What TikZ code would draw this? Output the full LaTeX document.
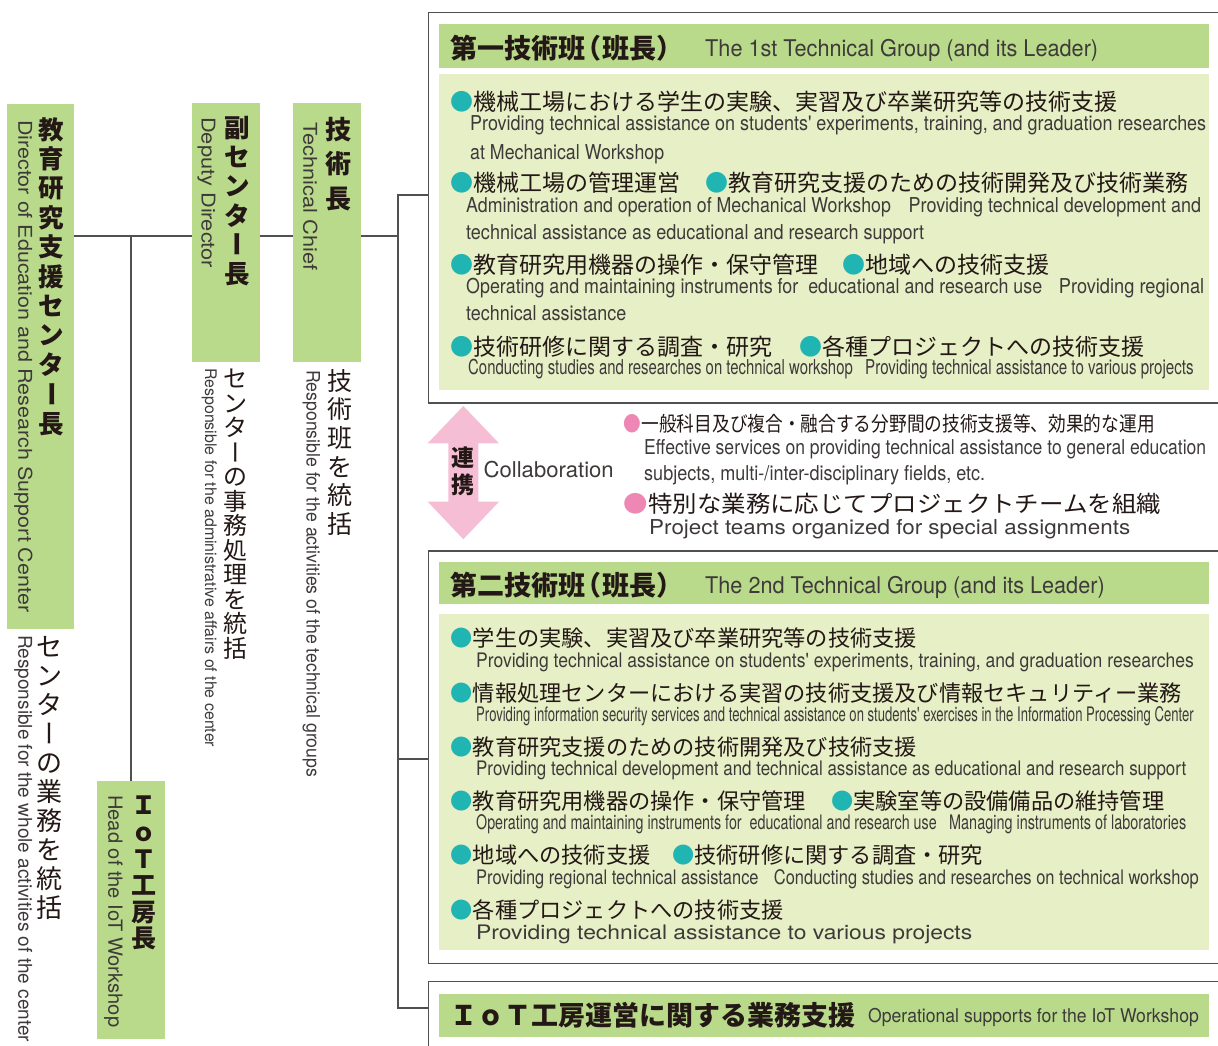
\documentclass[tikz,border=0pt]{standalone}
\usepackage{fontspec}
\usepackage{graphicx}
\newfontfamily\jp{Noto Sans CJK JP}
\newfontfamily\ensf{TeX Gyre Heros}
\definecolor{headgreen}{RGB}{185,217,139}
\definecolor{bodygreen}{RGB}{230,239,198}
\definecolor{bulletteal}{RGB}{32,180,178}
\definecolor{bulletpink}{RGB}{238,135,180}
\definecolor{arrowpink}{RGB}{246,190,212}
\definecolor{ink}{RGB}{35,24,21}
\definecolor{engray}{RGB}{62,58,57}
\definecolor{rule}{RGB}{80,80,80}
\newcommand{\fitw}[2]{\resizebox{#1pt}{\height}{#2}}
\newcommand{\vbar}{\makebox[1em]{\rotatebox[origin=c]{-90}{\raisebox{0pt}[0.88em][0.12em]{ー}}}}
\newcommand{\tb}{\textcolor{bulletteal}{●}}
\newcommand{\pb}{\textcolor{bulletpink}{●}}

\begin{document}
\begin{tikzpicture}[x=1pt,y=-1pt,
	greenbox/.style={fill=headgreen,inner sep=0,anchor=north west},
	bodybox/.style={fill=bodygreen,inner sep=0,anchor=north west},
	groupbox/.style={draw=rule,line width=1.5pt,fill=white,inner sep=0,anchor=north west},
	conn/.style={draw=rule,line width=1.4pt},
	vjp/.style={anchor=north,inner sep=0,align=center,text=ink},
	jpline/.style={anchor=west,inner sep=0,text=ink},
	entext/.style={anchor=base west,inner sep=0,text=engray},
	enrot/.style={anchor=base west,inner sep=0,rotate=-90,text=engray}]
	\useasboundingbox (0,0) rectangle (1218,1046);
	\clip (0,0) rectangle (1218,1046);

	\node[groupbox,minimum width=802pt,minimum height=390.3pt] (group1) at (427.6,11.7) {};
	\node[groupbox,minimum width=802pt,minimum height=412.7pt] (group2) at (427.6,550) {};
	\node[groupbox,minimum width=802pt,minimum height=90pt] (group3) at (427.6,980.7) {};
	\node[greenbox,minimum width=770pt,minimum height=43.7pt] (head1) at (438.8,24) {};
	\node[bodybox,minimum width=770pt,minimum height=316pt] (body1) at (438.8,74) {};
	\node[greenbox,minimum width=770pt,minimum height=42.3pt] (head2) at (439,561.7) {};
	\node[bodybox,minimum width=770pt,minimum height=336pt] (body2) at (439,614) {};
	\node[greenbox,minimum width=770pt,minimum height=43pt] (head3) at (439,994) {};

	\node[greenbox,minimum width=67pt,minimum height=525pt] (director) at (7,104) {};
	\node[greenbox,minimum width=68pt,minimum height=258.4pt] (deputy) at (192,103.3) {};
	\node[greenbox,minimum width=68pt,minimum height=258.4pt] (chief) at (293,103.3) {};
	\node[greenbox,minimum width=68pt,minimum height=258pt] (iothead) at (97,781) {};

	\coordinate (tap) at (131,236);
	\coordinate (spine) at (398,236);
	\coordinate (spinetop) at (398,195);
	\coordinate (spinemid) at (398,759);
	\coordinate (spinebot) at (398,1008);
	\draw[conn] (director.east |- tap) -- (deputy.west |- tap);
	\draw[conn] (deputy.east |- tap) -- (chief.west |- tap);
	\draw[conn] (chief.east |- tap) -- (spine);
	\draw[conn] (tap) -- (tap |- iothead.north);
	\draw[conn] (group1.west |- spinetop) -- (spinetop) -- (spinebot) -- (group3.west |- spinebot);
	\draw[conn] (spinemid) -- (group2.west |- spinemid);

	\node[vjp,font=\jp\bfseries\fontsize{25.5}{29.4}\selectfont] (directorjp) at (51.7,117) {教\\育\\研\\究\\支\\援\\セ\\ン\\タ\\\vbar\\長};
	\node[enrot,font=\ensf\fontsize{19}{19}\selectfont] (directoren) at (18.3,120) {\fitw{492}{Director of Education and Research Support Center}};
	\node[vjp,font=\jp\bfseries\fontsize{25.5}{29.2}\selectfont] (deputyjp) at (237.5,116) {副\\セ\\ン\\タ\\\vbar\\長};
	\node[enrot,font=\ensf\fontsize{19}{19}\selectfont] (deputyen) at (201.5,117) {\fitw{151}{Deputy Director}};
	\node[vjp,font=\jp\bfseries\fontsize{26}{34.5}\selectfont] (chiefjp) at (338.5,117) {技\\術\\長};
	\node[enrot,font=\ensf\fontsize{19}{19}\selectfont] (chiefen) at (303.3,122) {\fitw{148}{Technical Chief}};
	\node[vjp,font=\jp\bfseries\fontsize{25}{26.6}\selectfont] (iotjp) at (143.5,796) {Ｉ\\ｏ\\Ｔ\\工\\房\\長};
	\node[enrot,font=\ensf\fontsize{19.5}{19.5}\selectfont] (ioten) at (108.3,795) {\fitw{232}{Head of the IoT Workshop}};

	\node[vjp,font=\jp\fontsize{26}{29}\selectfont] (directordutyjp) at (49.5,636) {セ\\ン\\タ\\\vbar\\の\\業\\務\\を\\統\\括};
	\node[enrot,font=\ensf\fontsize{19}{19}\selectfont] (directordutyen) at (18.3,635) {\fitw{407}{Responsible for the whole activities of the center}};
	\node[vjp,font=\jp\fontsize{24}{24.5}\selectfont] (deputydutyjp) at (235.5,369) {セ\\ン\\タ\\\vbar\\の\\事\\務\\処\\理\\を\\統\\括};
	\node[enrot,font=\ensf\fontsize{16}{16}\selectfont] (deputydutyen) at (205,368) {\fitw{379}{Responsible for the administrative affairs of the center}};
	\node[vjp,font=\jp\fontsize{25}{28.6}\selectfont] (chiefdutyjp) at (339.5,369) {技\\術\\班\\を\\統\\括};
	\node[enrot,font=\ensf\fontsize{18.5}{18.5}\selectfont] (chiefdutyen) at (306.7,370) {\fitw{407}{Responsible for the activities of the technical groups}};

	\node[jpline,font=\jp\bfseries\fontsize{27}{27}\selectfont] (head1jp) at (450.5,48.3) {\fitw{221.5}{第一技術班\kern-0.4em（班長）\kern-0.4em}};
	\node[entext,font=\ensf\fontsize{23}{23}\selectfont] (head1en) at (705,56.7) {\fitw{393}{The 1st Technical Group (and its Leader)}};
	\begin{scope}[every node/.append style={font=\jp\fontsize{23}{23}\selectfont}]
		\node[jpline] (g1a) at (450.5,101.5) {\tb 機械工場における学生の実験、実習及び卒業研究等の技術支援};
		\node[jpline] (g1b) at (450.5,183) {\tb 機械工場の管理運営};
		\node[jpline] (g1c) at (705,183) {\tb 教育研究支援のための技術開発及び技術業務};
		\node[jpline] (g1d) at (450.5,265) {\tb 教育研究用機器の操作・保守管理};
		\node[jpline] (g1e) at (842,265) {\tb 地域への技術支援};
		\node[jpline] (g1f) at (450.5,347) {\tb 技術研修に関する調査・研究};
		\node[jpline] (g1g) at (799,347) {\tb 各種プロジェクトへの技術支援};
	\end{scope}
	\begin{scope}[every node/.append style={font=\ensf\fontsize{20.5}{20.5}\selectfont}]
		\node[entext] (g1aen) at (470,131) {\fitw{736}{Providing technical assistance on students' experiments, training, and graduation researches}};
		\node[entext] (g1aen2) at (470,159.5) {\fitw{194}{at Mechanical Workshop}};
		\node[entext] (g1ben) at (466,212) {\fitw{424.7}{Administration and operation of Mechanical Workshop}};
		\node[entext] (g1cen) at (908.5,212) {\fitw{292.5}{Providing technical development and}};
		\node[entext] (g1cen2) at (466,239) {\fitw{458}{technical assistance as educational and research support}};
		\node[entext] (g1den) at (466,293.5) {\fitw{576}{Operating and maintaining instruments for \ educational and research use}};
		\node[entext] (g1een) at (1058.7,293.5) {\fitw{145.3}{Providing regional}};
		\node[entext] (g1een2) at (466,320) {\fitw{160}{technical assistance}};
		\node[entext] (g1fen) at (468,374) {\fitw{384.6}{Conducting studies and researches on technical workshop}};
		\node[entext] (g1gen) at (865,374) {\fitw{328.5}{Providing technical assistance to various projects}};
	\end{scope}

	\fill[arrowpink] (463.3,406) -- (499,443.3) -- (478.3,443.3) -- (478.3,501.7) -- (499,501.7) -- (463.3,539.3)
		-- (427.7,501.7) -- (448.3,501.7) -- (448.3,443.3) -- (427.7,443.3) -- cycle;
	\node[vjp,font=\jp\bfseries\fontsize{23}{27}\selectfont] (collabjp) at (462.5,446.5) {連\\携};
	\node[entext,font=\ensf\fontsize{21.8}{21.8}\selectfont] (collaben) at (483.5,477.5) {\fitw{130}{Collaboration}};
	\node[jpline,font=\jp\fontsize{20.5}{20.5}\selectfont] (teama) at (623.6,424) {\fitw{531}{\pb 一般科目及び複合・融合する分野間の技術支援等、効果的な運用}};
	\node[entext,font=\ensf\fontsize{20.5}{20.5}\selectfont] (teamaen) at (644,454) {\fitw{562}{Effective services on providing technical assistance to general education}};
	\node[entext,font=\ensf\fontsize{20.5}{20.5}\selectfont] (teamaen2) at (644,480) {\fitw{341}{subjects, multi-/inter-disciplinary fields, etc.}};
	\node[jpline,font=\jp\fontsize{23}{23}\selectfont] (teamb) at (623.6,504) {\fitw{537}{\pb 特別な業務に応じてプロジェクトチームを組織}};
	\node[entext,font=\ensf\fontsize{20.5}{20.5}\selectfont] (teamben) at (649,534) {\fitw{481}{Project teams organized for special assignments}};

	\node[jpline,font=\jp\bfseries\fontsize{27}{27}\selectfont] (head2jp) at (450.5,585.5) {\fitw{221.5}{第二技術班\kern-0.4em（班長）\kern-0.4em}};
	\node[entext,font=\ensf\fontsize{23}{23}\selectfont] (head2en) at (705,593.5) {\fitw{399.5}{The 2nd Technical Group (and its Leader)}};
	\begin{scope}[every node/.append style={font=\jp\fontsize{22.2}{22.2}\selectfont}]
		\node[jpline] (g2a) at (450.5,638) {\tb 学生の実験、実習及び卒業研究等の技術支援};
		\node[jpline] (g2b) at (450.5,693) {\tb 情報処理センターにおける実習の技術支援及び情報セキュリティー業務};
		\node[jpline] (g2c) at (450.5,747) {\tb 教育研究支援のための技術開発及び技術支援};
		\node[jpline] (g2d) at (450.5,801) {\tb 教育研究用機器の操作・保守管理};
		\node[jpline] (g2e) at (831,801) {\tb 実験室等の設備備品の維持管理};
		\node[jpline] (g2f) at (450.5,855) {\tb 地域への技術支援};
		\node[jpline] (g2g) at (672,855) {\tb 技術研修に関する調査・研究};
		\node[jpline] (g2h) at (450.5,910) {\tb 各種プロジェクトへの技術支援};
	\end{scope}
	\begin{scope}[every node/.append style={font=\ensf\fontsize{20}{20}\selectfont}]
		\node[entext] (g2aen) at (476,667) {\fitw{717.5}{Providing technical assistance on students' experiments, training, and graduation researches}};
		\node[entext] (g2ben) at (476,721.5) {\fitw{717.5}{Providing information security services and technical assistance on students' exercises in the Information Processing Center}};
		\node[entext] (g2cen) at (476,775) {\fitw{710}{Providing technical development and technical assistance as educational and research support}};
		\node[entext] (g2den) at (476,829.5) {\fitw{460.5}{Operating and maintaining instruments for \ educational and research use}};
		\node[entext] (g2een) at (949,829.5) {\fitw{237}{Managing instruments of laboratories}};
		\node[entext] (g2fen) at (476,884) {\fitw{282.4}{Providing regional technical assistance}};
		\node[entext] (g2gen) at (773.7,884) {\fitw{424.9}{Conducting studies and researches on technical workshop}};
		\node[entext] (g2hen) at (476,939) {\fitw{496}{Providing technical assistance to various projects}};
	\end{scope}

	\node[jpline,font=\jp\bfseries\fontsize{27}{27}\selectfont] (head3jp) at (450.5,1015.5) {\fitw{404.5}{ＩｏＴ工房運営に関する業務支援}};
	\node[entext,font=\ensf\fontsize{19}{19}\selectfont] (head3en) at (868,1022) {\fitw{330.6}{Operational supports for the IoT Workshop}};
\end{tikzpicture}
\end{document}
